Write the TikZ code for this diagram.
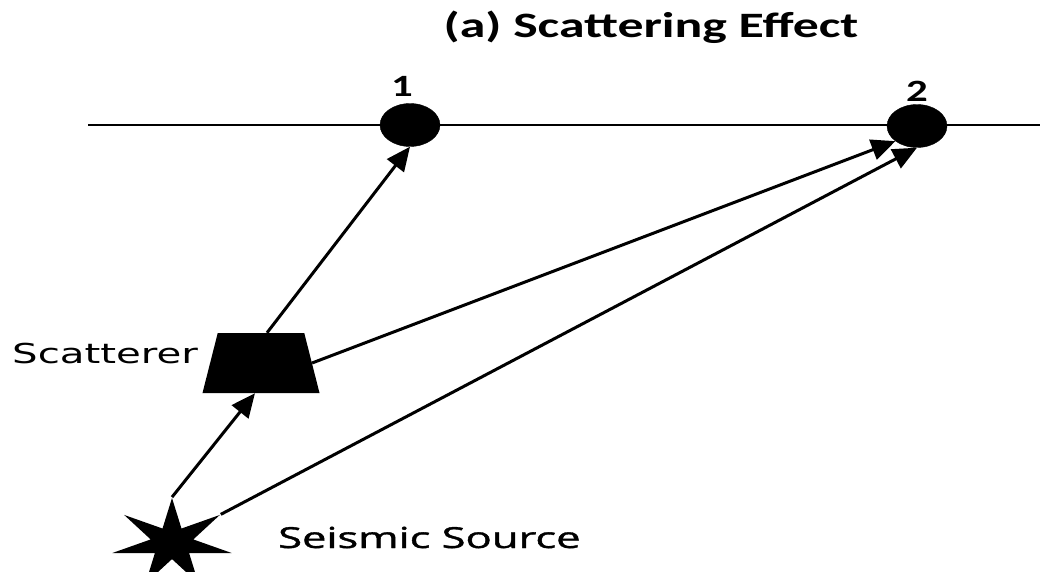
\documentclass[tikz,border=0pt]{standalone}
\usepackage{graphicx}
\usepackage{fontspec}
\setmainfont{Carlito}
\newfontfamily\scatfont{DejaVu Sans}
\newfontfamily\srcfont[FakeBold=1.2]{Open Sans}
\usetikzlibrary{arrows.meta,shapes.geometric}
\newcommand{\hstretch}[2][1.38]{\scalebox{#1}[1]{#2}}
\tikzstyle{receiver}=[ellipse,fill=black,draw=black,minimum width=60pt,minimum height=43pt,inner sep=0pt]
\tikzstyle{ray}=[-{Triangle[length=24pt,width=21pt]},line width=3pt]
\tikzstyle{lbl}=[inner sep=0pt,anchor=base]

\begin{document}
\begin{tikzpicture}[x=1pt,y=-1pt]
  \useasboundingbox (0,0) rectangle (1051,572);
  % surface line with the two receivers
  \coordinate (sfcL) at (88,125);
  \coordinate (sfcR) at (1040,125);
  \draw[line width=2.5pt] (sfcL) -- (sfcR);
  \node[receiver] (rec1) at (410,125) {};
  \node[receiver] (rec2) at (917,126) {};
  \node[lbl,font=\bfseries\fontsize{31}{31}\selectfont] (lab1) at (402,97) {\hstretch{1}};
  \node[lbl,font=\bfseries\fontsize{31}{31}\selectfont] (lab2) at (917,102) {\hstretch{2}};

  % scatterer and source
  \node[trapezium,trapezium left angle=80,trapezium right angle=80,trapezium stretches=true,
        minimum width=117pt,minimum height=60pt,inner sep=1pt,fill=black] (sct) at (261,363) {};
  \begin{scope}[shift={(172,543)},xscale=1.36]
    \node[star,star points=7,star point ratio=2.8,minimum size=90pt,inner sep=0pt,
          fill=black,transform shape] (src) at (0,0) {};
  \end{scope}

  % labels
  \node[lbl,font=\bfseries\fontsize{35.7}{36}\selectfont] (title) at (651,38) {\hstretch[1.45]{(a) Scattering Effect}};
  \node[lbl,anchor=base west,font=\scatfont\fontsize{27.4}{28}\selectfont] (sctlab) at (12,363) {\hstretch[1.47]{Scatterer}};
  \node[lbl,anchor=base west,font=\srcfont\fontsize{29}{30}\selectfont] (srclab) at (278,548) {\hstretch[1.50]{Seismic Source}};

  % rays
  \draw[ray] (src.outer point 1) -- ([xshift=-6pt]sct.south);
  \draw[ray] ([xshift=6pt]sct.north) -- (rec1.south);
  \draw[ray] (sct.east) -- (rec2.215);
  \draw[ray] (src.outer point 7) -- (rec2.south);
\end{tikzpicture}
\end{document}
